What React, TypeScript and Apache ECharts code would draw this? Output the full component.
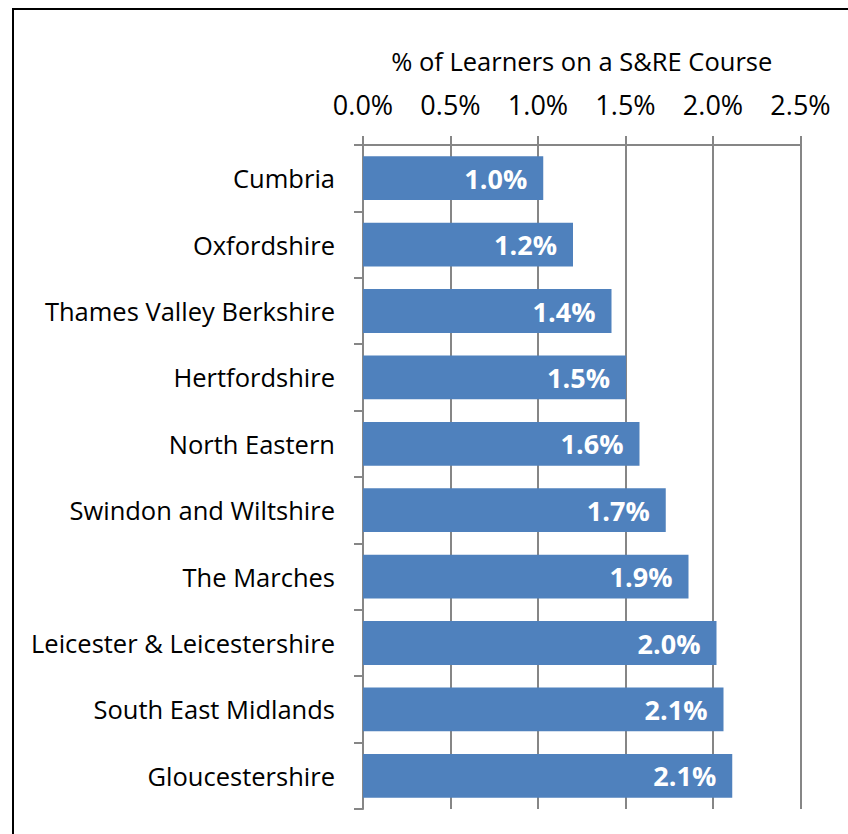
import React, { useEffect, useRef } from "react";
import * as echarts from "echarts";

const categories = [
  "Cumbria",
  "Oxfordshire",
  "Thames Valley Berkshire",
  "Hertfordshire",
  "North Eastern",
  "Swindon and Wiltshire",
  "The Marches",
  "Leicester & Leicestershire",
  "South East Midlands",
  "Gloucestershire",
];
const values = [1.03, 1.2, 1.42, 1.503, 1.58, 1.73, 1.86, 2.02, 2.06, 2.11];
const axisTitle = "% of Learners on a S&RE Course";

const FONT = "Open Sans";
const GREY = "#868686";

export default function App() {
  const ref = useRef<HTMLDivElement>(null);
  useEffect(() => {
    if (!ref.current) return;
    const chart = echarts.init(ref.current, null, { renderer: "svg" });
    chart.setOption({
      animation: false,
      backgroundColor: "#ffffff",
      textStyle: { fontFamily: FONT },
      grid: { left: 363, right: 47.5, top: 145, bottom: 25, containLabel: false },
      graphic: [
        {
          type: "rect",
          shape: { x: 13, y: 9, width: 1000, height: 1000 },
          style: { fill: "none", stroke: "#000", lineWidth: 2 },
          silent: true,
        },
      ],
      xAxis: {
        type: "value",
        position: "top",
        min: 0,
        max: 2.5,
        interval: 0.5,
        name: axisTitle,
        nameLocation: "middle",
        nameGap: 71,
        nameTextStyle: { fontFamily: FONT, fontSize: 25.5, color: "#000" },
        axisLine: { show: true, lineStyle: { color: GREY, width: 2 } },
        axisTick: { show: true, length: 9, lineStyle: { color: GREY, width: 2 } },
        splitLine: { show: true, lineStyle: { color: GREY, width: 2 } },
        axisLabel: {
          fontFamily: FONT,
          fontSize: 27,
          color: "#000",
          margin: 27,
          formatter: (v: number) => v.toFixed(1) + "%",
        },
      },
      yAxis: {
        type: "category",
        inverse: true,
        data: categories,
        axisLine: { show: true, lineStyle: { color: GREY, width: 2 } },
        axisTick: { show: true, length: 9, lineStyle: { color: GREY, width: 2 } },
        axisLabel: { fontFamily: FONT, fontSize: 25.5, color: "#000", margin: 28 },
      },
      series: [
        {
          type: "bar",
          data: values,
          barCategoryGap: "34%",
          itemStyle: { color: "#4F81BD" },
          label: {
            show: true,
            position: "insideRight",
            distance: 16,
            color: "#fff",
            fontFamily: FONT,
            fontWeight: "bold",
            fontSize: 27,
            formatter: (p: any) => p.value.toFixed(1) + "%",
          },
        },
      ],
    });
    return () => chart.dispose();
  }, []);
  return (
    <div
      ref={ref}
      style={{ position: "absolute", left: 0, top: 0, width: 848, height: 834 }}
    />
  );
}
